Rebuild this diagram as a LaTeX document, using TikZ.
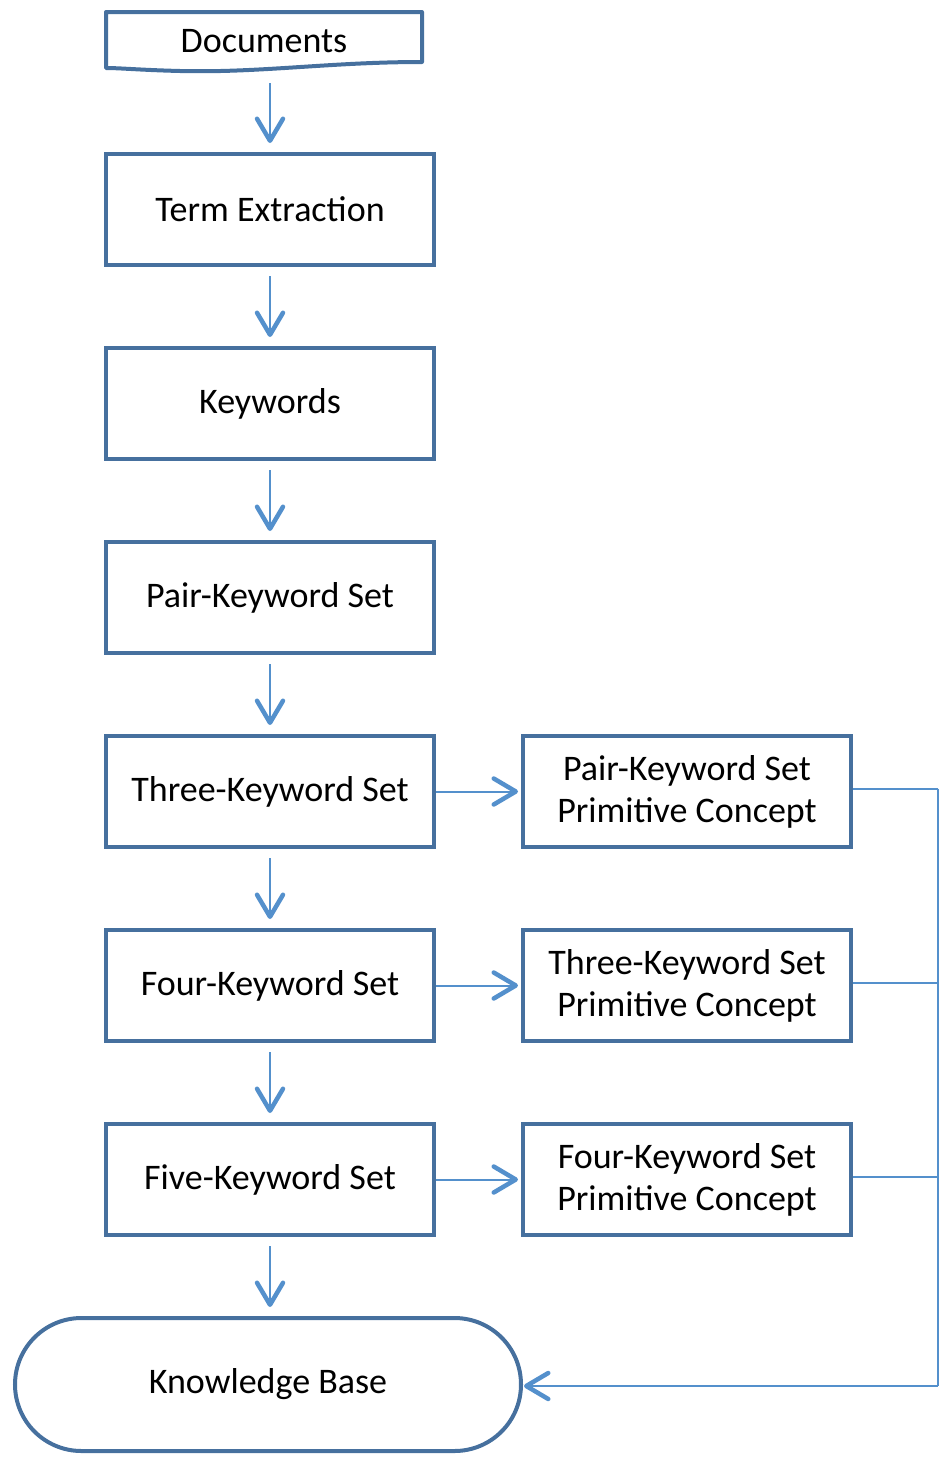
\documentclass[tikz,border=0pt]{standalone}
\usepackage{fontspec}
\setmainfont{Carlito}
\usetikzlibrary{arrows.meta,shapes.misc}
\definecolor{boxline}{RGB}{70,112,158}
\definecolor{flowline}{RGB}{84,144,204}
\tikzset{
  label font/.style={font=\fontsize{36}{42}\selectfont},
  stepbox/.style={draw=boxline, line width=4pt, rectangle, minimum width=328pt,
    minimum height=111pt, inner sep=0pt, align=center, label font},
  flow/.style={draw=flowline, line width=2.6pt,
    -{Straight Barb[length=22pt,width=26pt,line width=4.5pt,round]}},
  feed/.style={draw=flowline, line width=2pt},
}
\begin{document}
\begin{tikzpicture}[x=1pt,y=-1pt]
\useasboundingbox (0,0) rectangle (940,1459);
% document shape with wavy bottom
\draw[boxline, line width=4pt, line join=round, fill=white]
  (106,12) -- (422,12) -- (422,62)
  .. controls (330,62) and (260,73) .. (180,71)
  .. controls (140,70) and (120,68) .. (106,68) -- cycle;
\node[label font, minimum width=316pt, minimum height=60pt, inner sep=0pt]
  (doc) at (264,41) {Documents};
% main column
\node[stepbox] (term)  at (270,209.5)  {Term Extraction};
\node[stepbox] (kw)    at (270,403.5)  {Keywords};
\node[stepbox] (pair)  at (270,597.5)  {Pair-Keyword Set};
\node[stepbox] (three) at (270,791.5)  {Three-Keyword Set};
\node[stepbox] (four)  at (270,985.5)  {Four-Keyword Set};
\node[stepbox] (five)  at (270,1179.5) {Five-Keyword Set};
% primitive concepts
\node[stepbox] (pc2) at (687,791.5)  {Pair-Keyword Set\\Primitive Concept};
\node[stepbox] (pc3) at (687,985.5)  {Three-Keyword Set\\Primitive Concept};
\node[stepbox] (pc4) at (687,1179.5) {Four-Keyword Set\\Primitive Concept};
% terminal
\node[draw=boxline, line width=4pt, rounded rectangle, minimum width=506pt,
  minimum height=133pt, inner sep=0pt, label font]
  (kb) at (268,1384.5) {Knowledge Base};
\coordinate (bus) at (938,1386);
% vertical flow
\draw[flow, shorten <=12pt, shorten >=9pt] (doc.south -| term.north) -- (term.north);
\draw[flow, shorten <=9pt, shorten >=9pt] (term) -- (kw);
\draw[flow, shorten <=9pt, shorten >=9pt] (kw.south) -- (pair.north);
\draw[flow, shorten <=9pt, shorten >=9pt] (pair.south) -- (three.north);
\draw[flow, shorten <=9pt, shorten >=9pt] (three.south) -- (four.north);
\draw[flow, shorten <=9pt, shorten >=9pt] (four.south) -- (five.north);
\draw[flow, shorten <=9pt, shorten >=9pt] (five.south) -- (five.south |- kb.north);
% side flow
\draw[flow, line width=2pt, shorten >=3pt] (three.east) -- (pc2.west);
\draw[flow, line width=2pt, shorten >=3pt] (four.east) -- (pc3.west);
\draw[flow, line width=2pt, shorten >=3pt] (five.east) -- (pc4.west);
% collection to knowledge base
\draw[feed] ([yshift=3pt]pc2.east) -- ([yshift=3pt]pc2.east -| bus);
\draw[feed] ([yshift=3pt]pc3.east) -- ([yshift=3pt]pc3.east -| bus);
\draw[feed] ([yshift=3pt]pc4.east) -- ([yshift=3pt]pc4.east -| bus);
\draw[feed] ([yshift=3pt]pc2.east -| bus) -- (bus);
\draw[flow, line width=2pt, shorten >=1pt] (bus) -- (kb.east |- bus);
\end{tikzpicture}
\end{document}
